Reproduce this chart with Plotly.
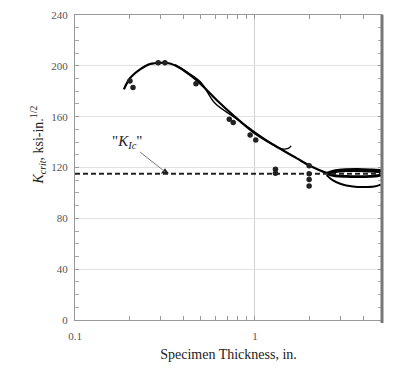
import plotly.graph_objects as go
import numpy as np

# ---- data ----
pts_x = [0.202, 0.21, 0.29, 0.316, 0.47, 0.72, 0.757, 0.94, 1.01, 1.3, 1.3, 2.0, 2.0, 2.0, 2.0]
pts_y = [188, 183, 202.5, 202.5, 186, 158, 155.5, 145.6, 141.6, 118.6, 115.4, 121.4, 115, 110.6, 105.4]

kic_pt_x = [0.316]
kic_pt_y = [116.7]
KIC_LEVEL = 115

curve_x = [0.187, 0.202, 0.23, 0.261, 0.301, 0.337, 0.383, 0.435, 0.495, 0.612, 0.755, 1.0, 1.32, 1.71, 2.02, 2.51, 2.8]
curve_y = [181.5, 190.2, 197.2, 201.4, 202.4, 201.8, 198.3, 192.8, 186.2, 173.1, 161.3, 146.9, 136.3, 127.2, 121.4, 115.7, 114.5]

hand_x = [0.36, 0.42, 0.5, 0.6, 0.76, 0.935, 1.16, 1.38, 1.53, 1.59]
hand_y = [201, 195, 187, 170.5, 160, 150.8, 141.6, 135, 135, 137]

loop_x = [2.5, 2.8, 3.2, 3.7, 4.35, 5.0, 5.3, 5.0, 4.35, 3.7, 3.2, 2.8, 2.55, 2.8, 3.2, 3.7, 4.35, 5.0]
loop_y = [115.5, 117.5, 118.3, 118.5, 118.2, 117.5, 116, 114, 113, 112.8, 113, 113.5, 115, 116.8, 117.5, 117.6, 117.2, 116.5]
arc_x = [2.5, 2.7, 3.0, 3.5, 4.0, 4.6, 5.0]
arc_y = [114, 110, 107, 105, 104.6, 105, 106.5]

y_ticks = [0, 40, 80, 120, 160, 200, 240]
x_ticks = [0.1, 1]
x_ticktext = ["0.1", "1"]
x_minor = [0.2, 0.3, 0.4, 0.5, 0.6, 0.7, 0.8, 0.9, 2, 3, 4]

SERIF = "Liberation Serif"

fig = go.Figure()
fig.add_hline(y=KIC_LEVEL, line=dict(color="#222", width=2, dash="5px,3px"), layer="above")

fig.add_trace(go.Scatter(x=curve_x, y=curve_y, mode="lines", line=dict(color="black", width=2.2, shape="spline"), hoverinfo="skip"))
fig.add_trace(go.Scatter(x=hand_x, y=hand_y, mode="lines", line=dict(color="black", width=1.4, shape="spline"), hoverinfo="skip"))
fig.add_trace(go.Scatter(x=loop_x, y=loop_y, mode="lines", line=dict(color="black", width=2.8, shape="spline"), hoverinfo="skip"))
fig.add_trace(go.Scatter(x=arc_x, y=arc_y, mode="lines", line=dict(color="black", width=2, shape="spline"), hoverinfo="skip"))
fig.add_trace(go.Scatter(x=pts_x, y=pts_y, mode="markers", marker=dict(color="#222", size=5.5), hoverinfo="skip"))
fig.add_trace(go.Scatter(x=kic_pt_x, y=kic_pt_y, mode="markers", marker=dict(color="#222", size=7, symbol="triangle-up"), hoverinfo="skip"))

fig.add_annotation(x=np.log10(kic_pt_x[0]), y=kic_pt_y[0], xref="x", yref="y",
                   text='"<i>K</i><sub><i>Ic</i></sub>"', showarrow=True, arrowhead=0,
                   arrowwidth=1, arrowcolor="#777", ax=-38, ay=-30,
                   font=dict(family=SERIF, size=15, color="#222"))

fig.add_annotation(x=0, y=0.5, xref="paper", yref="paper", xshift=-37, yshift=22,
                   xanchor="center", yanchor="middle",
                   text="<i>K</i><sub><i>crit</i></sub>, ksi-in.<sup>1/2</sup>", textangle=-90,
                   showarrow=False, font=dict(family=SERIF, size=14, color="#222"))

# thick right border
fig.add_shape(type="line", xref="paper", yref="paper", x0=1, x1=1, y0=-0.01, y1=1.0,
              line=dict(color="#777", width=3))

fig.update_layout(
    width=377, height=354,
    margin=dict(l=67, r=3, t=7, b=42),
    paper_bgcolor="white", plot_bgcolor="white",
    showlegend=False,
    xaxis=dict(type="log", range=[-1, np.log10(5.08)], tickmode="array", tickvals=x_ticks, ticktext=x_ticktext,
               automargin=False,
               showgrid=True, gridcolor="#cfcfcf", gridwidth=1, zeroline=False,
               showline=True, linecolor="#999", linewidth=1, mirror="allticks",
               ticks="inside", ticklen=4, tickcolor="#999",
               minor=dict(tickmode="array", tickvals=x_minor, ticks="inside", ticklen=4, tickcolor="#999", showgrid=False),
               tickfont=dict(family=SERIF, size=11, color="#555"), ticklabelstandoff=6,
               title=dict(text="Specimen Thickness, in.", font=dict(family=SERIF, size=14, color="#222"), standoff=15)),
    yaxis=dict(range=[0, 240], tickmode="array", tickvals=y_ticks, automargin=False,
               showgrid=True, gridcolor="#e2e2e2", gridwidth=1, zeroline=False,
               showline=True, linecolor="#999", linewidth=1, mirror="allticks",
               ticks="inside", ticklen=4, tickcolor="#999",
               minor=dict(dtick=10, ticks="inside", ticklen=4, tickcolor="#aaa", showgrid=False),
               tickfont=dict(family=SERIF, size=11, color="#555"), ticklabelstandoff=4),
)

fig.write_html("out.html")
